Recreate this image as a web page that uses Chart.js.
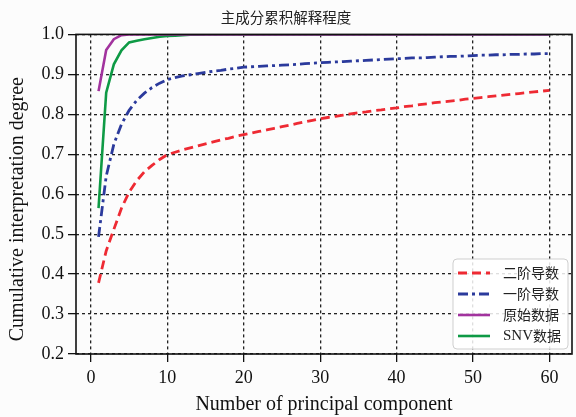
<!DOCTYPE html>
<html>
<head>
<meta charset="utf-8">
<script src="https://cdn.jsdelivr.net/npm/chart.js@4/dist/chart.umd.min.js"></script>
<style>
  html, body { margin: 0; padding: 0; background: #fcfcfc; }
  #wrap { width: 576px; height: 417px; }
</style>
</head>
<body>
<div id="wrap"><canvas id="pca" width="576" height="417"></canvas></div>
<script>
// ---- data ----
const components = [1, 2, 3, 4, 5, 6, 7, 8, 9, 10, 11, 12, 13, 14, 15, 16, 17, 18, 19, 20,
  21, 22, 23, 24, 25, 26, 27, 28, 29, 30, 31, 32, 33, 34, 35, 36, 37, 38, 39, 40,
  41, 42, 43, 44, 45, 46, 47, 48, 49, 50, 51, 52, 53, 54, 55, 56, 57, 58, 59, 60];

const secondDeriv = [0.378, 0.458, 0.512, 0.565, 0.605, 0.634, 0.656, 0.672, 0.687, 0.699,
  0.705, 0.711, 0.716, 0.721, 0.726, 0.731, 0.736, 0.740, 0.745, 0.749,
  0.753, 0.757, 0.761, 0.765, 0.769, 0.773, 0.777, 0.781, 0.785, 0.789,
  0.792, 0.795, 0.798, 0.801, 0.804, 0.806, 0.809, 0.811, 0.814, 0.816,
  0.819, 0.821, 0.824, 0.826, 0.829, 0.831, 0.833, 0.835, 0.838, 0.840,
  0.842, 0.844, 0.846, 0.848, 0.850, 0.852, 0.854, 0.856, 0.858, 0.860];

const firstDeriv = [0.493, 0.645, 0.725, 0.775, 0.810, 0.835, 0.853, 0.867, 0.878, 0.887,
  0.892, 0.896, 0.899, 0.902, 0.905, 0.908, 0.910, 0.913, 0.915, 0.918,
  0.919, 0.920, 0.921, 0.922, 0.923, 0.924, 0.925, 0.927, 0.928, 0.929,
  0.930, 0.931, 0.932, 0.933, 0.934, 0.935, 0.936, 0.937, 0.938, 0.939,
  0.940, 0.941, 0.941, 0.942, 0.943, 0.944, 0.945, 0.945, 0.946, 0.947,
  0.948, 0.948, 0.949, 0.949, 0.950, 0.950, 0.951, 0.951, 0.952, 0.952];

const rawData = [0.858, 0.961, 0.988, 0.998, 1.0, 1.0, 1.0, 1.0, 1.0, 1.0,
  1.0, 1.0, 1.0, 1.0, 1.0, 1.0, 1.0, 1.0, 1.0, 1.0,
  1.0, 1.0, 1.0, 1.0, 1.0, 1.0, 1.0, 1.0, 1.0, 1.0,
  1.0, 1.0, 1.0, 1.0, 1.0, 1.0, 1.0, 1.0, 1.0, 1.0,
  1.0, 1.0, 1.0, 1.0, 1.0, 1.0, 1.0, 1.0, 1.0, 1.0,
  1.0, 1.0, 1.0, 1.0, 1.0, 1.0, 1.0, 1.0, 1.0, 1.0];

const snvData = [0.565, 0.854, 0.925, 0.960, 0.980, 0.984, 0.988, 0.991, 0.994, 0.996,
  0.997, 0.998, 0.999, 0.999, 1.0, 1.0, 1.0, 1.0, 1.0, 1.0,
  1.0, 1.0, 1.0, 1.0, 1.0, 1.0, 1.0, 1.0, 1.0, 1.0,
  1.0, 1.0, 1.0, 1.0, 1.0, 1.0, 1.0, 1.0, 1.0, 1.0,
  1.0, 1.0, 1.0, 1.0, 1.0, 1.0, 1.0, 1.0, 1.0, 1.0,
  1.0, 1.0, 1.0, 1.0, 1.0, 1.0, 1.0, 1.0, 1.0, 1.0];

const seriesNames = ['二阶导数', '一阶导数', '原始数据', 'SNV数据'];
const xTicks = [0, 10, 20, 30, 40, 50, 60];
const yTicks = [0.2, 0.3, 0.4, 0.5, 0.6, 0.7, 0.8, 0.9, 1.0];

const SERIF = "'Liberation Serif', 'Times New Roman', serif";
const CJK = "'Noto Sans CJK SC', sans-serif";

const toPoints = ys => components.map((x, i) => ({ x: x, y: ys[i] }));

// ---- frame around plot + legend inside lower right ----
const framePlugin = {
  id: 'frame',
  afterDatasetsDraw(chart) {
    const { ctx, chartArea: a } = chart;
    ctx.save();
    ctx.strokeStyle = '#111';
    ctx.lineWidth = 1.6;
    ctx.strokeRect(a.left, a.top, a.right - a.left, a.bottom - a.top);
    ctx.restore();
  },
  afterDraw(chart) {
    const { ctx, chartArea: a } = chart;
    const boxW = 115, boxH = 90;
    const bx = a.right - boxW - 4, by = a.bottom - boxH - 5;
    ctx.save();
    ctx.fillStyle = 'rgba(255,255,255,0.85)';
    ctx.strokeStyle = '#cfcfcf';
    ctx.lineWidth = 1;
    ctx.beginPath();
    ctx.roundRect(bx, by, boxW, boxH, 4);
    ctx.fill();
    ctx.stroke();
    ctx.textBaseline = 'middle';
    chart.data.datasets.forEach((ds, i) => {
      const cy = by + 14 + i * 21;
      ctx.strokeStyle = ds.borderColor;
      ctx.lineWidth = ds.borderWidth;
      ctx.setLineDash(ds.borderDash || []);
      ctx.beginPath();
      ctx.moveTo(bx + 5, cy);
      ctx.lineTo(bx + 37, cy);
      ctx.stroke();
      ctx.setLineDash([]);
      ctx.fillStyle = '#222';
      if (i === 3) {
        ctx.font = '15px ' + SERIF;
        ctx.fillText('SNV', bx + 50, cy);
        const w = ctx.measureText('SNV').width;
        ctx.font = '14px ' + CJK;
        ctx.fillText('数据', bx + 50 + w, cy);
      } else {
        ctx.font = '14px ' + CJK;
        ctx.fillText(ds.label, bx + 50, cy);
      }
    });
    ctx.restore();
  }
};

const bgPlugin = {
  id: 'bg',
  beforeDraw(chart) {
    const { ctx, width, height } = chart;
    ctx.save();
    ctx.fillStyle = '#fcfcfc';
    ctx.fillRect(0, 0, width, height);
    ctx.restore();
  }
};

const axisCommon = {
  border: { display: false, dash: [3, 3] },
  grid: {
    color: '#222',
    lineWidth: 1.3,
    tickLength: 8,
    tickColor: '#111',
    tickWidth: 1.3,
    tickBorderDash: []
  }
};

new Chart(document.getElementById('pca'), {
  type: 'line',
  data: {
    datasets: [
      { label: seriesNames[0], data: toPoints(secondDeriv), borderColor: '#ee2a33', borderWidth: 2.8, borderDash: [9, 5] },
      { label: seriesNames[1], data: toPoints(firstDeriv), borderColor: '#2b3a9c', borderWidth: 2.8, borderDash: [10, 4, 3, 4] },
      { label: seriesNames[2], data: toPoints(rawData), borderColor: '#a2339e', borderWidth: 2.6 },
      { label: seriesNames[3], data: toPoints(snvData), borderColor: '#0e9a45', borderWidth: 2.6 }
    ]
  },
  options: {
    responsive: false,
    animation: false,
    layout: { padding: { left: 0, right: 4, top: 0, bottom: 0 } },
    elements: { point: { radius: 0 }, line: { tension: 0 } },
    plugins: {
      legend: { display: false },
      tooltip: { enabled: false },
      title: {
        display: true,
        text: '主成分累积解释程度',
        color: '#222',
        font: { family: CJK, size: 14.5, weight: 'normal' },
        padding: { top: 9, bottom: 8 }
      }
    },
    scales: {
      x: {
        type: 'linear',
        min: -1.95,
        max: 62.95,
        afterBuildTicks: axis => { axis.ticks = xTicks.map(v => ({ value: v })); },
        afterFit: scale => { scale.height = 63; },
        ticks: { color: '#111', padding: 5, font: { family: SERIF, size: 18 } },
        title: {
          display: true,
          text: 'Number of principal component',
          color: '#111',
          font: { family: SERIF, size: 20 },
          padding: { top: 0, bottom: 0 }
        },
        ...axisCommon
      },
      y: {
        min: 0.2,
        max: 1.0,
        afterBuildTicks: axis => { axis.ticks = yTicks.map(v => ({ value: v })); },
        afterFit: scale => { scale.width = 76; },
        ticks: { color: '#111', padding: 4, font: { family: SERIF, size: 18 }, callback: v => v.toFixed(1) },
        title: {
          display: true,
          text: 'Cumulative interpretation degree      ',
          color: '#111',
          font: { family: SERIF, size: 20 },
          padding: { top: 6, bottom: 0 }
        },
        ...axisCommon
      }
    }
  },
  plugins: [bgPlugin, framePlugin]
});
</script>
</body>
</html>
